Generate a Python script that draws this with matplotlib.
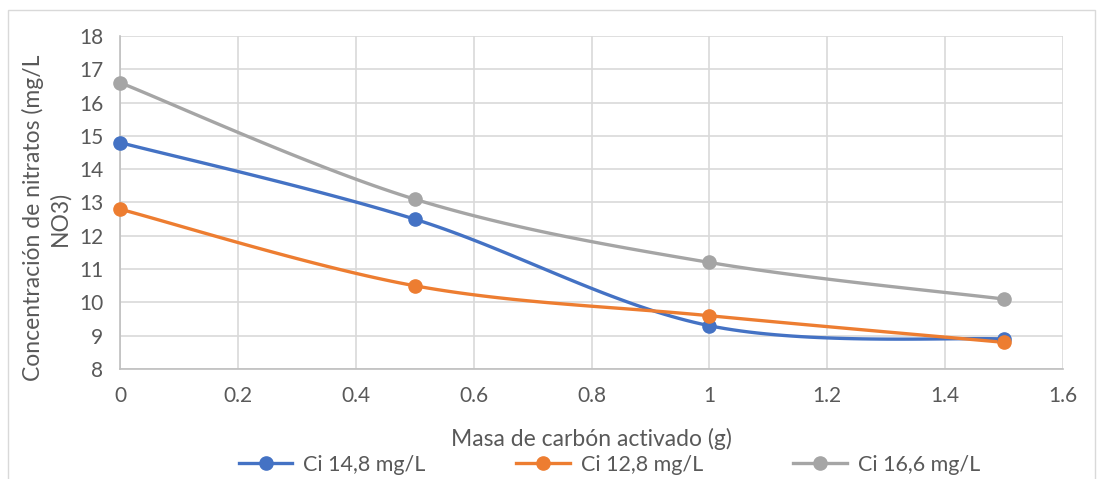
import numpy as np
import matplotlib.pyplot as plt

plt.rcParams['font.family'] = ['Lato', 'DejaVu Sans']

masa = [0, 0.5, 1, 1.5]
ci_148 = [14.8, 12.5, 9.3, 8.9]
ci_128 = [12.8, 10.5, 9.6, 8.8]
ci_166 = [16.6, 13.1, 11.2, 10.1]
LABELS = ['Ci 14,8 mg/L', 'Ci 12,8 mg/L', 'Ci 16,6 mg/L']
COLORS = ['#4472C4', '#ED7D31', '#A5A5A5']


def smooth(x, y, n=40):
    # Excel-style smoothed line: cubic bezier with catmull-rom tangents
    p = np.column_stack([x, y]).astype(float)
    ext = np.vstack([p[0], p, p[-1]])
    out = []
    t = np.linspace(0, 1, n)[:, None]
    for i in range(len(p) - 1):
        p0, p1 = ext[i + 1], ext[i + 2]
        c1 = p0 + (ext[i + 2] - ext[i]) / 6
        c2 = p1 - (ext[i + 3] - ext[i + 1]) / 6
        seg = ((1 - t) ** 3) * p0 + 3 * ((1 - t) ** 2) * t * c1 + 3 * (1 - t) * t ** 2 * c2 + t ** 3 * p1
        out.append(seg)
    out = np.vstack(out)
    return out[:, 0], out[:, 1]


fig = plt.figure(figsize=(11.02, 4.79), dpi=100)
ax = fig.add_axes([120 / 1102, 1 - 369 / 479, (1063 - 120) / 1102, (369 - 36) / 479])

for ys, lab, col in zip([ci_148, ci_128, ci_166], LABELS, COLORS):
    sx, sy = smooth(masa, ys)
    ax.plot(sx, sy, color=col, lw=2.4, solid_capstyle='round', clip_on=False)
    ax.plot(masa, ys, 'o', color=col, ms=9.5, clip_on=False, zorder=3)
    ax.plot([], [], '-o', color=col, lw=2.4, ms=9.5, label=lab)

ax.set_xlim(0, 1.6)
ax.set_ylim(8, 18)
ax.set_xticks(np.arange(0, 1.61, 0.2))
ax.set_xticklabels(['0', '0.2', '0.4', '0.6', '0.8', '1', '1.2', '1.4', '1.6'])
ax.set_yticks(range(8, 19))
ax.grid(True, color='#D9D9D9', lw=1.2)
ax.set_axisbelow(True)
for s in ['top', 'right']:
    ax.spines[s].set_visible(False)
for s in ['left', 'bottom']:
    ax.spines[s].set_color('#BFBFBF')
    ax.spines[s].set_linewidth(1.2)
ax.tick_params(length=0, labelsize=15, colors='#595959', pad=12)

ax.set_xlabel('Masa de carbón activado (g)', fontsize=16.5, color='#595959', labelpad=16)
ax.set_ylabel('Concentración de nitratos (mg/L\nNO3)', fontsize=16.5, color='#595959',
              linespacing=1.25, va='center')
ax.yaxis.set_label_coords((46 - 120) / 943, (369 - 218) / 333)

fig.legend(loc='center', bbox_to_anchor=(0.553, (479 - 465) / 479), ncol=3,
           frameon=False, fontsize=15.5, handlelength=2.5, handletextpad=0.5,
           columnspacing=4.2, labelcolor='#595959')

fig.patches.append(plt.Rectangle((8 / 1102, -0.01), (1095 - 8) / 1102, 1 - 10 / 479 + 0.01,
                                 transform=fig.transFigure, fill=False, ec='#D9D9D9', lw=1))

fig.savefig('out.png', dpi=100)
